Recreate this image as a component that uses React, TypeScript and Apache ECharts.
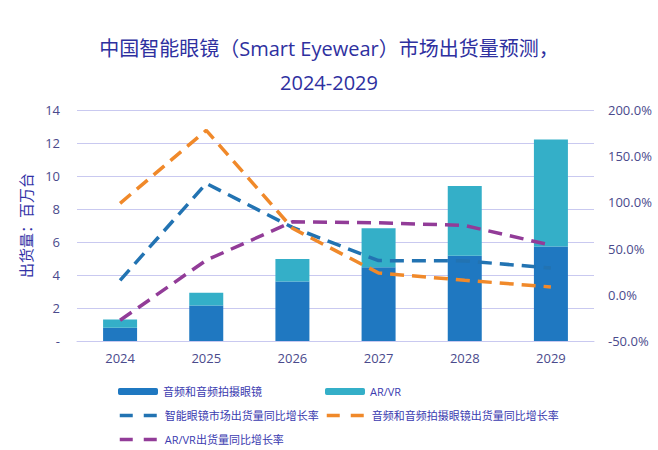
import React, { useEffect, useRef } from "react";
import * as echarts from "echarts";

const years = ["2024", "2025", "2026", "2027", "2028", "2029"];
const audioGlasses = [0.8, 2.15, 3.6, 4.47, 5.17, 5.73];
const arvr = [0.5, 0.77, 1.37, 2.37, 4.23, 6.48];
const totalGrowth = [15.7, 120.5, 73, 37, 36.7, 29];
const audioGrowth = [99, 178, 72, 23.6, 15.7, 8.5];
const arvrGrowth = [-27.6, 37.4, 79, 78, 75, 53.7];

const titleLines = ["中国智能眼镜（Smart Eyewear）市场出货量预测，", "2024-2029"];

const names = [
  "音频和音频拍摄眼镜",
  "AR/VR",
  "智能眼镜市场出货量同比增长率",
  "音频和音频拍摄眼镜出货量同比增长率",
  "AR/VR出货量同比增长率",
];

const FONT = "'Open Sans', 'Noto Sans CJK SC', sans-serif";

export default function App() {
  const ref = useRef<HTMLDivElement>(null);
  useEffect(() => {
    if (!ref.current) return;
    const chart = echarts.init(ref.current, undefined, { renderer: "svg" });
    const dash = [14, 8];
    const legendText = { color: "#3b3bb0", fontSize: 11, fontFamily: FONT };
    const mkLegend = (name: string, left: number, top: number, isBar: boolean) => {
      const lg: any = {
        show: true,
        data: [name],
        left,
        top,
        orient: "horizontal",
        itemWidth: 40,
        itemHeight: isBar ? 7 : 8,
        itemGap: 4,
        textStyle: legendText,
        selectedMode: false,
      };
      if (!isBar) {
        lg.itemStyle = { opacity: 0 };
        lg.lineStyle = { type: [13, 11], width: 3.5 };
      }
      return lg;
    };
    const titleStyle = {
      color: "#2e30a0",
      fontSize: 20,
      fontWeight: "normal",
      fontFamily: FONT,
    };
    chart.setOption({
      animation: false,
      textStyle: { fontFamily: FONT },
      title: [
        { text: titleLines[0], left: "center", top: 33, textStyle: titleStyle },
        { text: titleLines[1], left: "center", top: 67, textStyle: titleStyle },
      ],
      legend: [
        mkLegend(names[0], 113, 381, true),
        mkLegend(names[1], 320, 381, true),
        mkLegend(names[2], 113, 405, false),
        mkLegend(names[3], 320, 405, false),
        mkLegend(names[4], 113, 429, false),
      ],
      grid: { left: 77, right: 64, top: 110, bottom: 109 },
      xAxis: {
        type: "category",
        data: years,
        axisLine: { show: true, lineStyle: { color: "#c9c9f0", width: 1 } },
        axisTick: { show: false },
        axisLabel: { color: "#4a4a8c", fontSize: 13, margin: 10, fontFamily: FONT },
      },
      yAxis: [
        {
          type: "value",
          min: 0,
          max: 14,
          interval: 2,
          name: "出货量：百万台",
          nameLocation: "middle",
          nameRotate: 90,
          nameGap: 44,
          nameTextStyle: { color: "#3232a6", fontSize: 15, fontFamily: FONT },
          axisLine: { show: false },
          axisTick: { show: false },
          axisLabel: {
            color: "#4a4a8c",
            fontSize: 13,
            margin: 17,
            fontFamily: FONT,
            formatter: (v: number) => (v === 0 ? "-" : String(v)),
          },
          splitLine: { lineStyle: { color: "#c9c9f0", width: 1 } },
        },
        {
          type: "value",
          min: -50,
          max: 200,
          interval: 50,
          position: "right",
          axisLine: { show: false },
          axisTick: { show: false },
          splitLine: { show: false },
          axisLabel: {
            color: "#4a4a8c",
            fontSize: 13,
            margin: 14,
            fontFamily: FONT,
            formatter: (v: number) => v.toFixed(1) + "%",
          },
        },
      ],
      series: [
        {
          name: names[0],
          type: "bar",
          stack: "s",
          data: audioGlasses,
          barWidth: 34,
          itemStyle: { color: "#1f78c1" },
        },
        {
          name: names[1],
          type: "bar",
          stack: "s",
          data: arvr,
          barWidth: 34,
          itemStyle: { color: "#34afc8" },
        },
        {
          name: names[2],
          type: "line",
          yAxisIndex: 1,
          data: totalGrowth,
          symbol: "none",
          z: 3,
          lineStyle: { color: "#2273b2", width: 3.5, type: dash },
          itemStyle: { color: "#2273b2" },
        },
        {
          name: names[3],
          type: "line",
          yAxisIndex: 1,
          data: audioGrowth,
          symbol: "none",
          z: 3,
          lineStyle: { color: "#f0892a", width: 3.5, type: dash },
          itemStyle: { color: "#f0892a" },
        },
        {
          name: names[4],
          type: "line",
          yAxisIndex: 1,
          data: arvrGrowth,
          symbol: "none",
          z: 3,
          lineStyle: { color: "#923c98", width: 3.5, type: dash },
          itemStyle: { color: "#923c98" },
        },
      ],
    });
    return () => chart.dispose();
  }, []);
  return (
    <div
      ref={ref}
      style={{ position: "fixed", left: 0, top: 0, width: 658, height: 450, background: "#fff" }}
    />
  );
}
